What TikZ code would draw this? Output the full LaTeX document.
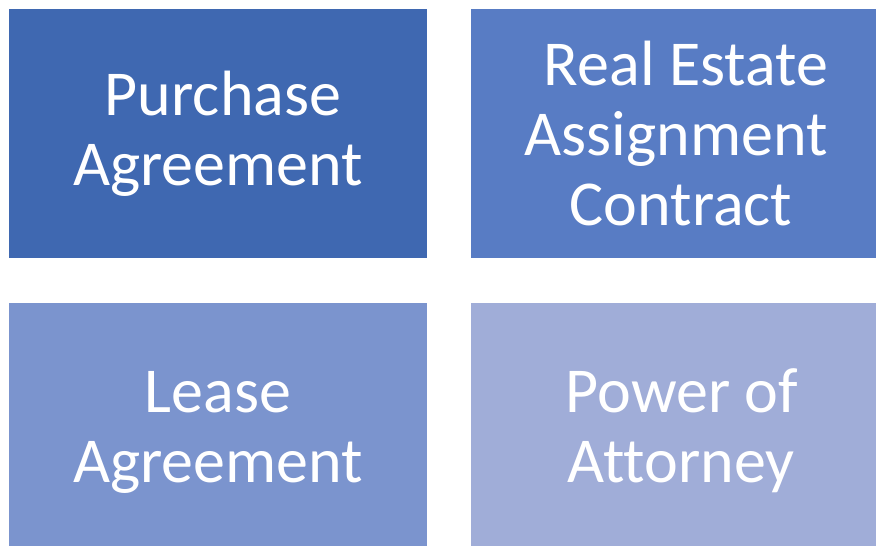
\documentclass[tikz,border=0pt]{standalone}
\usepackage{fontspec}
\setmainfont[Ligatures=NoCommon]{Carlito}
\definecolor{tileA}{RGB}{63,104,177}
\definecolor{tileB}{RGB}{88,124,196}
\definecolor{tileC}{RGB}{123,148,206}
\definecolor{tileD}{RGB}{160,173,216}
\newcommand{\indentby}[1]{\hspace*{#1pt}}
\newcommand{\lowerby}{\rule{0pt}{57pt}}
\tikzset{
  tile/.style={anchor=north west, inner sep=0pt, outer sep=0pt,
    text=white, align=center,
    font=\fontsize{64}{70}\selectfont}
}
\begin{document}
\begin{tikzpicture}[x=1pt, y=-1pt]
                    \useasboundingbox (0,0) rectangle (876,546);
                    \node[tile, fill=tileA, minimum width=418pt, minimum height=249pt] (purchase) at (9,9) {\indentby{10}Purchase\\Agreement};
                    \node[tile, fill=tileB, minimum width=405pt, minimum height=249pt] (assign) at (471,9) {\indentby{25}Real Estate\\\indentby{5}Assignment\\\indentby{15}Contract};
                    \node[tile, fill=tileC, minimum width=418pt, minimum height=243pt] (lease) at (9,303) {\lowerby Lease\\Agreement};
                    \node[tile, fill=tileD, minimum width=405pt, minimum height=243pt] (power) at (471,303) {\lowerby\indentby{17}Power of\\\indentby{15}Attorney};
                \end{tikzpicture}
\end{document}
